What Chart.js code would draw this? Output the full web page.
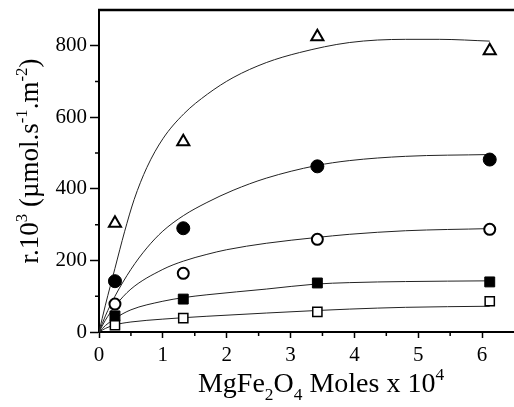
<!DOCTYPE html>
<html>
<head>
<meta charset="utf-8">
<script src="https://cdn.jsdelivr.net/npm/chart.js@4.4.0/dist/chart.umd.min.js"></script>
<style>
  html, body { margin: 0; padding: 0; background: #fff; overflow: hidden; }
  #wrap { width: 514px; height: 407px; }
</style>
</head>
<body>
<div id="wrap"><canvas id="chart"></canvas></div>
<script>
// ── Data ────────────────────────────────────────────────────────────────────
const markerX       = [0.25, 1.32, 3.42, 6.12];
const triangleY     = [304, 532, 825, 786];
const filledCircleY = [142, 290, 463, 482];
const openCircleY   = [78, 164, 259, 287];
const filledSquareY = [45, 92, 137, 140];
const openSquareY   = [19, 39, 56, 86];

// fitted curves (traced)
const triFitX  = [0, 0.1, 0.25, 0.4, 0.55, 0.75, 1.0, 1.33, 1.7, 2.1, 2.62, 3.14, 3.92, 4.8, 5.33, 6.12];
const triFitY  = [0, 75, 178, 280, 370, 460, 540, 610, 665, 711, 753, 781, 809, 818, 818, 813];
const fcFitX   = [0, 0.1, 0.25, 0.5, 0.75, 1.0, 1.32, 1.69, 2.1, 2.62, 3.4, 3.92, 4.8, 6.12];
const fcFitY   = [0, 45, 100, 175, 235, 282, 325, 362, 396, 430, 465, 479, 491, 496];
const ocFitX   = [0, 0.1, 0.25, 0.5, 1.0, 1.32, 1.69, 2.0, 2.62, 3.4, 3.92, 4.8, 6.12];
const ocFitY   = [0, 33, 72, 120, 175, 198, 217, 230, 248, 264, 273, 283, 289];
const fsFitX   = [0, 0.1, 0.25, 0.5, 1.0, 1.32, 1.69, 2.62, 3.4, 3.92, 4.8, 6.12];
const fsFitY   = [0, 18, 38, 62, 86, 96, 104, 120, 134, 138, 141, 143];
const osFitX   = [0, 0.1, 0.25, 0.5, 1.0, 1.32, 1.69, 2.62, 3.4, 3.92, 4.8, 6.12];
const osFitY   = [0, 10, 20, 28, 36, 40, 44, 53, 60, 64, 69, 72];

const xTicks = [0, 1, 2, 3, 4, 5, 6];
const yTicks = [0, 200, 400, 600, 800];

const FONT = '"Liberation Serif", "Times New Roman", serif';

const pts = (xs, ys) => xs.map((x, i) => ({ x, y: ys[i] }));

const markerSet = (data, style, radius, filled, bw) => ({
  data: pts(markerX, data),
  showLine: false,
  pointStyle: style,
  pointRadius: radius,
  pointHoverRadius: radius,
  pointBorderWidth: bw,
  pointBorderColor: '#000',
  pointBackgroundColor: filled ? '#000' : '#fff',
  order: 0
});

const fitSet = (xs, ys) => ({
  data: pts(xs, ys),
  showLine: true,
  borderColor: '#222',
  borderWidth: 1,
  pointRadius: 0,
  cubicInterpolationMode: 'monotone',
  order: 1
});

// ── Plugins: minor ticks, top frame line, rich axis titles ──────────────────
const frame = {
  id: 'frame',
  afterDraw(chart) {
    const { ctx, chartArea: a, scales: { x, y } } = chart;
    ctx.save();
    ctx.strokeStyle = '#000';
    ctx.lineWidth = 2.5;
    ctx.beginPath();
    ctx.moveTo(a.left - 1, a.top);
    ctx.lineTo(a.right, a.top);
    ctx.stroke();

    // minor ticks
    ctx.lineWidth = 1.5;
    ctx.beginPath();
    for (let v = 0.5; v < 6.5; v += 1) {
      const px = x.getPixelForValue(v);
      ctx.moveTo(px, a.bottom);
      ctx.lineTo(px, a.bottom + 4);
    }
    for (let v = 100; v < 900; v += 200) {
      const py = y.getPixelForValue(v);
      ctx.moveTo(a.left, py);
      ctx.lineTo(a.left - 4, py);
    }
    ctx.stroke();

    // rich text titles
    const drawRich = (parts, size) => {
      let w = 0;
      parts.forEach(p => {
        ctx.font = `${p.s ? size * 0.62 : size}px ${FONT}`;
        p.w = ctx.measureText(p.t).width;
        w += p.w;
      });
      let cx = -w / 2;
      parts.forEach(p => {
        ctx.font = `${p.s ? size * 0.62 : size}px ${FONT}`;
        const dy = p.s === 'sup' ? -size * 0.42 : p.s === 'sub' ? size * 0.28 : 0;
        ctx.fillText(p.t, cx, dy);
        cx += p.w;
      });
    };

    ctx.fillStyle = '#000';
    ctx.textBaseline = 'alphabetic';
    ctx.textAlign = 'left';

    ctx.save();
    ctx.translate(321, 392);
    drawRich([
      { t: 'MgFe' }, { t: '2', s: 'sub' }, { t: 'O' }, { t: '4', s: 'sub' },
      { t: ' Moles x 10' }, { t: '4', s: 'sup' }
    ], 28);
    ctx.restore();

    ctx.save();
    ctx.translate(38, 161);
    ctx.rotate(-Math.PI / 2);
    drawRich([
      { t: 'r.10' }, { t: '3', s: 'sup' }, { t: ' (µmol.s' }, { t: '-1', s: 'sup' },
      { t: '.m' }, { t: '-2', s: 'sup' }, { t: ')' }
    ], 27);
    ctx.restore();

    ctx.restore();
  }
};

new Chart(document.getElementById('chart'), {
  type: 'scatter',
  data: {
    datasets: [
      markerSet(triangleY, 'triangle', 7, false, 2),
      markerSet(filledCircleY, 'circle', 6.5, true, 1),
      markerSet(openCircleY, 'circle', 5.5, false, 2),
      markerSet(filledSquareY, 'rect', 7, true, 1),
      markerSet(openSquareY, 'rect', 6.5, false, 1.5),
      fitSet(triFitX, triFitY),
      fitSet(fcFitX, fcFitY),
      fitSet(ocFitX, ocFitY),
      fitSet(fsFitX, fsFitY),
      fitSet(osFitX, osFitY)
    ]
  },
  options: {
    responsive: true,
    maintainAspectRatio: false,
    animation: false,
    layout: { autoPadding: false, padding: { top: 10, right: 0, left: 0, bottom: 0 } },
    plugins: { legend: { display: false }, tooltip: { enabled: false } },
    scales: {
      x: {
        type: 'linear',
        min: 0, max: 6.5,
        afterFit: s => { s.height = 75; s.paddingRight = 0; },
        afterBuildTicks: s => { s.ticks = xTicks.map(v => ({ value: v })); },
        border: { display: true, color: '#000', width: 2 },
        grid: { drawOnChartArea: false, drawTicks: true, tickLength: 6, color: '#000', tickWidth: 1.5 },
        ticks: { color: '#000', padding: 5, font: { family: FONT, size: 21 } }
      },
      y: {
        type: 'linear',
        min: 0, max: 900,
        afterFit: s => { s.width = 99; s.paddingTop = 0; s.paddingBottom = 0; },
        afterBuildTicks: s => { s.ticks = yTicks.map(v => ({ value: v })); },
        border: { display: true, color: '#000', width: 2 },
        grid: { drawOnChartArea: false, drawTicks: true, tickLength: 9, color: '#000', tickWidth: 1.5 },
        ticks: { color: '#000', padding: 3, font: { family: FONT, size: 21 } }
      }
    }
  },
  plugins: [frame]
});
</script>
</body>
</html>
